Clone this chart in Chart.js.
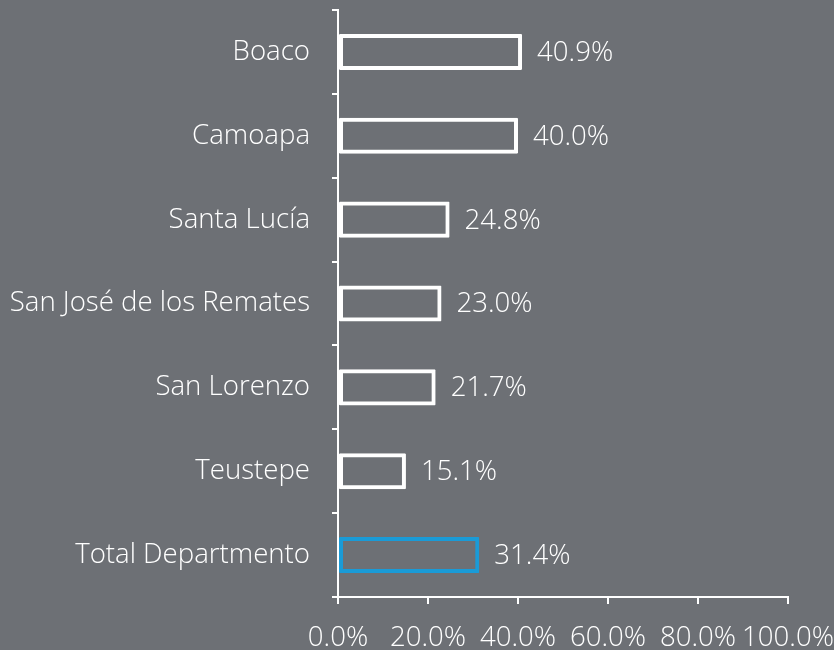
<!DOCTYPE html>
<html>
<head>
<meta charset="utf-8">
<script src="https://cdn.jsdelivr.net/npm/chart.js@4"></script>
<style>
  html, body { margin: 0; padding: 0; background: #6d7075; }
  #wrap { width: 834px; height: 650px; }
</style>
</head>
<body>
<div id="wrap"><canvas id="chartBars"></canvas></div>
<script>
const categories = ['Boaco', 'Camoapa', 'Santa Lucía', 'San José de los Remates', 'San Lorenzo', 'Teustepe', 'Total Departmento'];
const values = [40.9, 40.0, 24.8, 23.0, 21.7, 15.1, 31.4];
const xTicks = [0, 20, 40, 60, 80, 100];

const lineColors = values.map((v, i) => i === values.length - 1 ? '#1a9bd7' : '#ffffff');

// etiquetas de valor al final de cada barra
const valueLabels = {
    id: 'valueLabels',
    afterDatasetsDraw(chart) {
        const c = chart.ctx;
        const meta = chart.getDatasetMeta(0);
        c.save();
        c.fillStyle = '#ffffff';
        c.font = '300 27.6px "Open Sans"';
        c.textBaseline = 'middle';
        c.textAlign = 'left';
        meta.data.forEach((bar, i) => {
            c.fillText(values[i].toFixed(1) + '%', bar.x + 15, bar.y + 1);
        });
        c.restore();
    }
};

const ctx = document.getElementById('chartBars').getContext('2d');
new Chart(ctx, {
    type: 'bar',
    data: {
        labels: categories,
        datasets: [{
            data: values,
            backgroundColor: 'rgba(0,0,0,0)',
            borderColor: lineColors,
            borderWidth: 4,
            borderRadius: 1,
            borderSkipped: false,
            barPercentage: 0.43,
            categoryPercentage: 1
        }]
    },
    options: {
        indexAxis: 'y',
        responsive: true,
        maintainAspectRatio: false,
        animation: false,
        layout: { padding: { top: 10, right: 46, left: 0, bottom: 0 } },
        plugins: { legend: { display: false }, tooltip: { enabled: false } },
        scales: {
            x: {
                min: 0,
                max: 100,
                afterBuildTicks(scale) { scale.ticks = xTicks.map(v => ({ value: v })); },
                afterFit(scale) { scale.height = 53; scale.paddingLeft = 0; scale.paddingRight = 0; },
                grid: { drawOnChartArea: false, color: '#ffffff', tickLength: 7, lineWidth: 2 },
                border: { color: '#ffffff', width: 2 },
                ticks: {
                    color: '#ffffff',
                    font: { family: 'Open Sans', size: 27.6, weight: '300' },
                    padding: 18,
                    maxRotation: 0,
                    autoSkip: false,
                    callback: v => v.toFixed(1) + '%'
                }
            },
            y: {
                afterFit(scale) { scale.width = 338; scale.paddingTop = 0; scale.paddingBottom = 0; },
                grid: { drawOnChartArea: false, color: '#ffffff', tickLength: 6, lineWidth: 2, offset: true },
                border: { color: '#ffffff', width: 2 },
                ticks: {
                    color: '#ffffff',
                    font: { family: 'Open Sans', size: 27.6, weight: '300' },
                    padding: 22
                }
            }
        }
    },
    plugins: [valueLabels]
});
</script>
</body>
</html>
